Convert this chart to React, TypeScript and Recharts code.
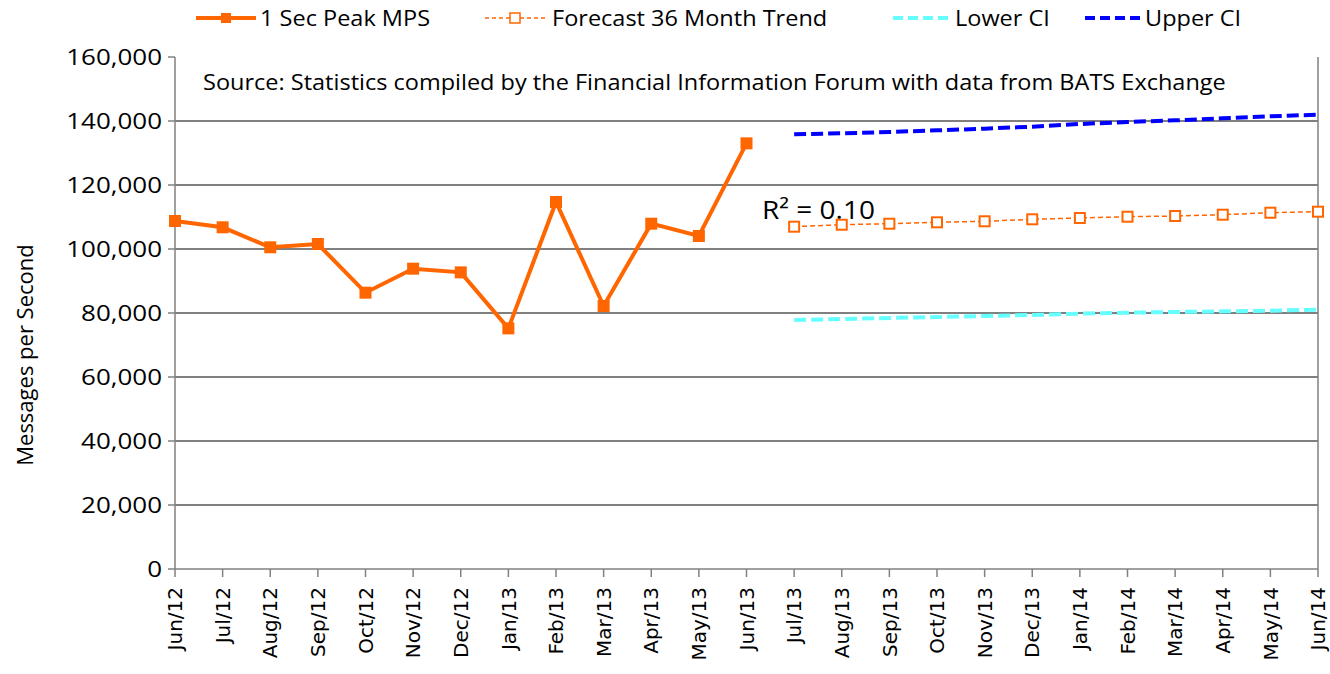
import React from 'react';
import {
  LineChart, Line, XAxis, YAxis, CartesianGrid, ReferenceLine, Customized
} from 'recharts';

const months = [
  'Jun/12', 'Jul/12', 'Aug/12', 'Sep/12', 'Oct/12', 'Nov/12', 'Dec/12',
  'Jan/13', 'Feb/13', 'Mar/13', 'Apr/13', 'May/13', 'Jun/13',
  'Jul/13', 'Aug/13', 'Sep/13', 'Oct/13', 'Nov/13', 'Dec/13',
  'Jan/14', 'Feb/14', 'Mar/14', 'Apr/14', 'May/14', 'Jun/14',
];

// Jun/12 .. Jun/13
const peakMps = [
  108750, 106780, 100530, 101560, 86350, 93850, 92700,
  75200, 114690, 82190, 107910, 104060, 133020,
];

// Jul/13 .. Jun/14
const forecastTrend = [
  106970, 107590, 107900, 108340, 108660, 109280,
  109690, 110090, 110310, 110720, 111340, 111660,
];
const lowerCi = [
  77810, 78120, 78440, 78750, 79060, 79370,
  79790, 80100, 80310, 80520, 80730, 81040,
];
const upperCi = [
  135830, 136150, 136560, 137080, 137600, 138230,
  139060, 139690, 140210, 140830, 141460, 141980,
];

const yTicks = [0, 20000, 40000, 60000, 80000, 100000, 120000, 140000, 160000];
const gridValues = [20000, 40000, 60000, 80000, 100000, 120000, 140000];

const ORANGE = '#FF6600';
const CYAN = '#66FFFF';
const BLUE = '#0000FF';
const FONT = '"Open Sans", sans-serif';
// the source picture is slightly stretched sideways
const SX = 1.12;

const forecastStart = peakMps.length;
const data = months.map((m, i) => ({
  month: m,
  peak: i < forecastStart ? peakMps[i] : null,
  trend: i >= forecastStart ? forecastTrend[i - forecastStart] : null,
  lower: i >= forecastStart ? lowerCi[i - forecastStart] : null,
  upper: i >= forecastStart ? upperCi[i - forecastStart] : null,
}));

const fmt = (v: number) => v.toLocaleString('en-US');

const SolidSquare = (props: any) => {
  const { cx, cy } = props;
  if (cx == null || cy == null || props.value == null) return null;
  return <rect x={cx - 6} y={cy - 6} width={12} height={12} fill={ORANGE} />;
};

const HollowSquare = (props: any) => {
  const { cx, cy } = props;
  if (cx == null || cy == null || props.value == null) return null;
  return <rect x={cx - 5} y={cy - 5} width={10} height={10} fill="#fff" stroke={ORANGE} strokeWidth={2} />;
};

const XTick = ({ x, y, payload }: any) => (
  <g transform={`translate(${x},${y})`}>
    <text
      transform="rotate(-90)"
      x={-10}
      y={0}
      dy="0.36em"
      textAnchor="end"
      fontFamily='"DejaVu Sans", sans-serif'
      fontSize={20}
      fill="#000"
    >
      {payload.value}
    </text>
  </g>
);

const YTick = ({ x, y, payload }: any) => (
  <text
    transform={`translate(${x},${y}) scale(1.18,1)`}
    dy="0.36em"
    textAnchor="end"
    fontFamily={FONT}
    fontSize={22}
    fill="#000"
  >
    {fmt(payload.value)}
  </text>
);

const Wide = ({ x, y, size, children }: any) => (
  <text transform={`translate(${x},${y}) scale(${SX},1)`} dy="0.36em" fontSize={size}>
    {children}
  </text>
);

const Annotations = () => (
  <g fontFamily={FONT} fill="#000">
    {/* legend */}
    <g>
      <line x1={196} y1={18} x2={256} y2={18} stroke={ORANGE} strokeWidth={4} />
      <rect x={221} y={13} width={10} height={10} fill={ORANGE} />
      <Wide x={260} y={18} size={21}>1 Sec Peak MPS</Wide>

      <line x1={485} y1={18} x2={545} y2={18} stroke={ORANGE} strokeWidth={1.5} strokeDasharray="4 3" />
      <rect x={510} y={13} width={10} height={10} fill="#fff" stroke={ORANGE} strokeWidth={1.5} />
      <Wide x={552} y={18} size={21}>Forecast 36 Month Trend</Wide>

      <line x1={893} y1={18} x2={950} y2={18} stroke={CYAN} strokeWidth={4} strokeDasharray="10 5" />
      <Wide x={955} y={18} size={21}>Lower CI</Wide>

      <line x1={1085} y1={18} x2={1140} y2={18} stroke={BLUE} strokeWidth={4} strokeDasharray="10 5" />
      <Wide x={1145} y={18} size={21}>Upper CI</Wide>
    </g>

    <Wide x={203} y={82} size={21}>
      Source: Statistics compiled by the Financial Information Forum with data from BATS Exchange
    </Wide>

    <text transform={`translate(762,219) scale(${SX},1)`} fontSize={25}>R² = 0.10</text>

    <text
      transform="translate(25,355) rotate(-90)"
      textAnchor="middle"
      dy="0.36em"
      fontSize={22}
    >
      Messages per Second
    </text>
  </g>
);

export default function App() {
  return (
    <div style={{ position: 'absolute', left: 0, top: 0, background: '#fff' }}>
      <LineChart
        width={1330}
        height={674}
        data={data}
        margin={{ top: 57, right: 12, bottom: 0, left: 0 }}
      >
        <CartesianGrid
          horizontal
          vertical={false}
          horizontalValues={gridValues}
          stroke="#000"
          strokeWidth={1}
        />
        <XAxis
          dataKey="month"
          interval={0}
          height={105}
          tick={<XTick />}
          tickSize={8}
          tickMargin={0}
          axisLine={{ stroke: '#808080', strokeWidth: 1.5 }}
          tickLine={{ stroke: '#808080', strokeWidth: 1.5 }}
        />
        <YAxis
          width={175}
          domain={[0, 160000]}
          ticks={yTicks}
          interval={0}
          tick={<YTick />}
          tickSize={7}
          tickMargin={6}
          axisLine={{ stroke: '#808080', strokeWidth: 1.5 }}
          tickLine={{ stroke: '#808080', strokeWidth: 1.5 }}
        />
        <ReferenceLine x="Jun/14" stroke="#808080" strokeWidth={1.5} />
        <Line
          dataKey="upper"
          stroke={BLUE}
          strokeWidth={4}
          strokeDasharray="12 5"
          dot={false}
          isAnimationActive={false}
        />
        <Line
          dataKey="lower"
          stroke={CYAN}
          strokeWidth={4}
          strokeDasharray="12 5"
          dot={false}
          isAnimationActive={false}
        />
        <Line
          dataKey="trend"
          stroke={ORANGE}
          strokeWidth={1.5}
          strokeDasharray="5 3"
          dot={<HollowSquare />}
          isAnimationActive={false}
        />
        <Line
          dataKey="peak"
          stroke={ORANGE}
          strokeWidth={4}
          dot={<SolidSquare />}
          isAnimationActive={false}
        />
        <Customized component={Annotations} />
      </LineChart>
    </div>
  );
}
